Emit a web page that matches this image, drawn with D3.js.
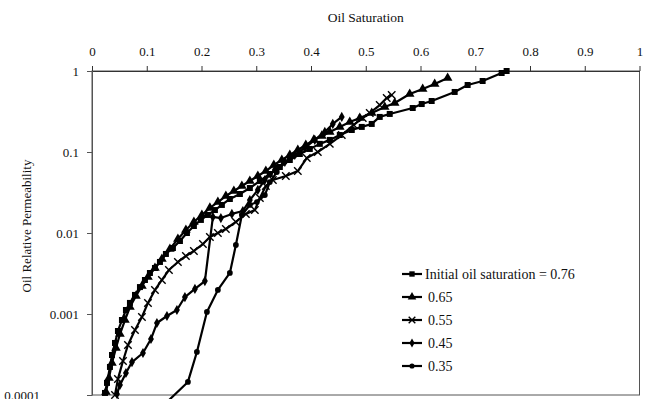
<!DOCTYPE html>
<html>
<head>
<meta charset="utf-8">
<script src="https://cdn.jsdelivr.net/npm/d3@7"></script>
<style>
  html, body { margin: 0; padding: 0; background: #fff; }
  svg { display: block; }
  text { font-family: "Liberation Serif", "Times New Roman", serif; fill: #111; }
</style>
</head>
<body>
<svg id="chart" width="647" height="399"></svg>
<script>
// Oil relative permeability vs. oil saturation for five initial oil saturations
const xTicks = [0, 0.1, 0.2, 0.3, 0.4, 0.5, 0.6, 0.7, 0.8, 0.9, 1];
const xTickLabels = ["0", "0.1", "0.2", "0.3", "0.4", "0.5", "0.6", "0.7", "0.8", "0.9", "1"];
const yTicks = [0.0001, 0.001, 0.01, 0.1, 1];
const yTickLabels = ["0.0001", "0.001", "0.01", "0.1", "1"];

const seriesNames = ["Initial oil saturation = 0.76", "0.65", "0.55", "0.45", "0.35"];

const so076 = [0.0237, 0.0274, 0.0328, 0.0365, 0.0420, 0.0474, 0.0547, 0.0620, 0.0693, 0.0785, 0.0876, 0.0967, 0.1058, 0.1150, 0.1241, 0.1350, 0.1478, 0.1606, 0.1734, 0.1861, 0.1989, 0.2117, 0.2245, 0.2372, 0.2518, 0.2701, 0.2883, 0.3066, 0.3248, 0.3431, 0.3613, 0.3796, 0.3978, 0.4161, 0.4343, 0.4526, 0.4745, 0.4927, 0.5109, 0.5255, 0.5438, 0.5858, 0.6022, 0.6204, 0.6624, 0.6861, 0.7135, 0.7482, 0.7573];
const kro076 = [1.06e-4, 1.41e-4, 2.22e-4, 3.12e-4, 4.39e-4, 6.17e-4, 8.43e-4, 1.12e-3, 1.37e-3, 1.72e-3, 2.15e-3, 2.63e-3, 3.21e-3, 3.70e-3, 4.39e-3, 5.51e-3, 6.53e-3, 7.96e-3, 0.0100, 0.0122, 0.0145, 0.0167, 0.0192, 0.0222, 0.0263, 0.0303, 0.0359, 0.0439, 0.0535, 0.0653, 0.0797, 0.0945, 0.109, 0.126, 0.141, 0.162, 0.187, 0.204, 0.222, 0.271, 0.295, 0.349, 0.391, 0.426, 0.551, 0.672, 0.753, 0.945, 1.0];

const so065 = [0.0255, 0.0310, 0.0365, 0.0438, 0.0511, 0.0602, 0.0693, 0.0803, 0.0912, 0.1022, 0.1150, 0.1277, 0.1423, 0.1569, 0.1715, 0.1861, 0.2007, 0.2153, 0.2299, 0.2445, 0.2591, 0.2737, 0.2883, 0.3029, 0.3175, 0.3321, 0.3467, 0.3613, 0.3759, 0.3905, 0.4051, 0.4197, 0.4343, 0.4526, 0.4708, 0.4891, 0.5109, 0.5347, 0.5529, 0.5803, 0.6040, 0.6259, 0.6496];
const kro065 = [1.09e-4, 1.62e-4, 2.48e-4, 3.80e-4, 5.66e-4, 8.43e-4, 1.22e-3, 1.67e-3, 2.22e-3, 2.86e-3, 3.70e-3, 4.78e-3, 6.34e-3, 8.43e-3, 0.0109, 0.0137, 0.0167, 0.0204, 0.0241, 0.0286, 0.0330, 0.0380, 0.0439, 0.0506, 0.0582, 0.0691, 0.0797, 0.0918, 0.106, 0.122, 0.141, 0.158, 0.177, 0.204, 0.235, 0.263, 0.303, 0.360, 0.403, 0.520, 0.600, 0.691, 0.820];

const so055 = [0.0420, 0.0474, 0.0566, 0.0657, 0.0785, 0.0912, 0.1022, 0.1150, 0.1277, 0.1405, 0.1569, 0.1715, 0.1861, 0.2026, 0.2153, 0.2299, 0.2445, 0.2628, 0.2810, 0.2974, 0.3066, 0.3175, 0.3303, 0.3540, 0.3759, 0.3923, 0.4124, 0.4343, 0.4562, 0.4781, 0.4945, 0.5073, 0.5255, 0.5383, 0.5474];
const kro055 = [1.00e-4, 1.58e-4, 2.63e-4, 4.14e-4, 6.34e-4, 9.18e-4, 1.37e-3, 1.98e-3, 2.63e-3, 3.49e-3, 4.39e-3, 5.20e-3, 6.00e-3, 7.31e-3, 8.93e-3, 0.0100, 0.0112, 0.0137, 0.0172, 0.0192, 0.0270, 0.0380, 0.0451, 0.0506, 0.0582, 0.0843, 0.100, 0.126, 0.162, 0.216, 0.263, 0.303, 0.380, 0.464, 0.505];

const so045 = [0.0456, 0.0511, 0.0620, 0.0730, 0.0931, 0.1077, 0.1186, 0.1369, 0.1551, 0.1697, 0.1880, 0.2062, 0.2208, 0.2354, 0.2555, 0.2755, 0.2883, 0.3029, 0.3157, 0.3339, 0.3522, 0.3704, 0.3887, 0.4069, 0.4252, 0.4398, 0.4562];
const kro045 = [1.03e-4, 1.33e-4, 1.87e-4, 2.55e-4, 3.30e-4, 4.91e-4, 7.74e-4, 9.44e-4, 1.12e-3, 1.62e-3, 2.04e-3, 2.55e-3, 0.0158, 0.0153, 0.0172, 0.0187, 0.0255, 0.0340, 0.0451, 0.0600, 0.0753, 0.0918, 0.112, 0.141, 0.177, 0.222, 0.271];

const so035 = [0.1332, 0.1752, 0.1916, 0.2099, 0.2299, 0.2518, 0.2628, 0.2737, 0.2883, 0.3011, 0.3157, 0.3248, 0.3376, 0.3504];
const kro035 = [7.74e-5, 1.45e-4, 3.40e-4, 1.06e-3, 1.98e-3, 3.21e-3, 7.11e-3, 0.0167, 0.0222, 0.0241, 0.0294, 0.0426, 0.0566, 0.0753];

const soSeries = [so076, so065, so055, so045, so035];
const kroSeries = [kro076, kro065, kro055, kro045, kro035];

const svg = d3.select("#chart");
const x = d3.scaleLinear().domain([0, 1]).range([92, 639.5]);
const y = d3.scaleLog().domain([0.0001, 1]).range([395, 71]);

// plot frame
svg.append("rect")
  .attr("x", x(0)).attr("y", y(1))
  .attr("width", x(1) - x(0)).attr("height", y(0.0001) - y(1))
  .attr("fill", "none").attr("stroke", "#555").attr("stroke-width", 1);

// top axis
const xAxis = svg.append("g")
  .attr("transform", `translate(0,${y(1)})`)
  .call(d3.axisTop(x).tickValues(xTicks).tickSize(5).tickSizeOuter(0)
        .tickFormat((d, i) => xTickLabels[i]));
xAxis.select(".domain").attr("stroke", "#333");
xAxis.selectAll(".tick line").attr("stroke", "#333");
xAxis.selectAll("text").attr("font-size", 13).attr("font-family", "Liberation Serif").attr("dy", "-0.55em").attr("fill", "#111");

// left axis
const yAxis = svg.append("g")
  .attr("transform", `translate(${x(0)},0)`)
  .call(d3.axisLeft(y).tickValues(yTicks).tickSize(5).tickSizeOuter(0)
        .tickFormat((d, i) => yTickLabels[i]));
yAxis.select(".domain").attr("stroke", "#555");
yAxis.selectAll(".tick line").attr("stroke", "#555");
yAxis.selectAll("text").attr("font-size", 13).attr("font-family", "Liberation Serif")
  .attr("x", d => d === 0.0001 ? -52 : -13).attr("fill", "#111");

// axis titles
svg.append("text")
  .attr("x", (x(0) + x(1)) / 2).attr("y", 22)
  .attr("text-anchor", "middle").attr("font-size", 13.5)
  .text("Oil Saturation");
svg.append("text")
  .attr("transform", `translate(31,226) rotate(-90)`)
  .attr("text-anchor", "middle").attr("font-size", 13)
  .text("Oil Relative Permeability");

// marker shapes per series
const markerDefs = [
  { type: d3.symbolSquare, size: 36, fill: true },
  { type: d3.symbolTriangle, size: 40, fill: true },
  { type: d3.symbolX || d3.symbolCross, size: 38, fill: false },
  { type: d3.symbolDiamond, size: 30, fill: true },
  { type: d3.symbolCircle, size: 26, fill: true }
];

function drawMarker(g, k, cx, cy, scale) {
  const m = markerDefs[k];
  const p = g.append("path")
    .attr("d", d3.symbol().type(m.type).size(m.size * scale)())
    .attr("transform", `translate(${cx},${cy})`);
  if (m.fill) p.attr("fill", "#000").attr("stroke", "none");
  else p.attr("fill", "none").attr("stroke", "#000").attr("stroke-width", 1.4);
}

const line = d3.line().x(d => x(d[0])).y(d => y(d[1]));
const plot = svg.append("g");

soSeries.forEach((so, k) => {
  const pts = so.map((v, i) => [v, kroSeries[k][i]]);
  plot.append("path")
    .attr("d", line(pts))
    .attr("fill", "none").attr("stroke", "#000").attr("stroke-width", 2.2)
    .attr("stroke-linejoin", "round");
  const mg = plot.append("g");
  pts.forEach(p => drawMarker(mg, k, x(p[0]), y(p[1]), 1));
});

// legend
const legend = svg.append("g");
const legendRowY = [274, 297, 320, 343, 366];
seriesNames.forEach((name, k) => {
  const ly = legendRowY[k];
  legend.append("line")
    .attr("x1", 402).attr("x2", 422).attr("y1", ly).attr("y2", ly)
    .attr("stroke", "#000").attr("stroke-width", 2.2);
  drawMarker(legend, k, 412, ly, 0.8);
  legend.append("text")
    .attr("x", k === 0 ? 425 : 428).attr("y", ly).attr("dy", "0.35em")
    .attr("font-size", 14).text(name);
});
</script>
</body>
</html>
